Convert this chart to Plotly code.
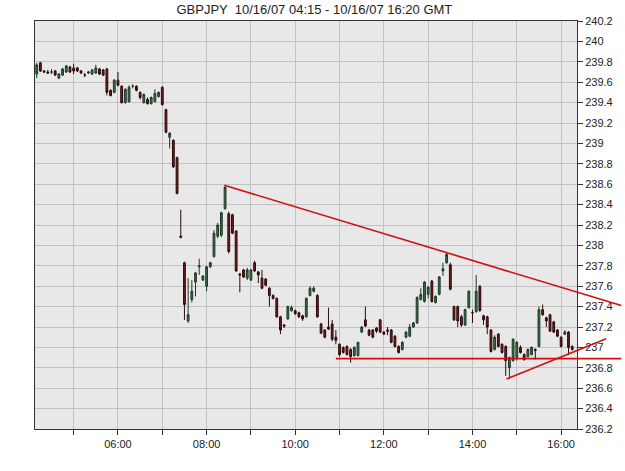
import pandas as pd
import plotly.graph_objects as go

# ---- data (5-minute candles, GBPJPY 10/16/07) ----
start_time = "2007-10-16 04:10"
n_candles = 146

opens = [239.68,239.79,239.71,239.70,239.70,239.71,239.64,239.67,239.70,239.75,
         239.74,239.74,239.71,239.67,239.69,239.68,239.69,239.73,239.72,239.73,
         239.52,239.50,239.62,239.56,239.40,239.41,239.56,239.56,239.50,239.40,
         239.43,239.39,239.41,239.46,239.55,239.33,239.06,239.03,238.86,238.09,
         237.83,237.26,237.47,237.64,237.79,237.66,237.60,237.79,237.89,238.09,
         238.10,238.36,238.31,238.30,238.14,237.72,237.76,237.68,237.66,237.83,
         237.74,237.68,237.67,237.58,237.51,237.48,237.30,237.22,237.28,237.36,
         237.36,237.34,237.31,237.30,237.51,237.55,237.51,237.23,237.17,237.20,
         237.23,237.10,237.03,237.00,237.01,236.98,236.92,236.92,237.15,237.27,
         237.17,237.17,237.19,237.27,237.15,237.17,237.17,237.11,237.01,236.98,
         237.10,237.11,237.20,237.24,237.47,237.45,237.52,237.65,237.44,237.52,
         237.75,237.83,237.81,237.40,237.40,237.30,237.22,237.39,237.34,237.35,
         237.60,237.31,237.30,237.17,236.98,237.13,237.03,237.01,236.80,236.87,
         236.90,237.00,236.93,236.91,236.93,236.98,237.01,237.37,237.29,237.32,
         237.25,237.17,237.10,237.13,237.15,237.01]
highs = [239.79,239.80,239.72,239.72,239.73,239.72,239.69,239.74,239.77,239.76,
         239.78,239.75,239.72,239.69,239.71,239.73,239.77,239.74,239.73,239.74,
         239.53,239.63,239.70,239.57,239.54,239.57,239.58,239.57,239.51,239.49,
         239.45,239.46,239.53,239.51,239.56,239.34,239.11,239.04,238.87,238.35,
         237.84,237.68,237.66,237.74,237.87,237.71,237.80,237.84,238.15,238.22,
         238.33,238.58,238.33,238.31,238.15,237.73,237.77,237.78,237.77,237.85,
         237.75,237.76,237.68,237.59,237.52,237.49,237.31,237.23,237.41,237.41,
         237.37,237.35,237.32,237.49,237.60,237.60,237.52,237.24,237.18,237.39,
         237.27,237.17,237.04,237.01,237.02,236.99,237.01,237.05,237.21,237.40,
         237.18,237.18,237.20,237.28,237.16,237.20,237.18,237.12,237.02,237.06,
         237.16,237.23,237.25,237.50,237.58,237.65,237.60,237.66,237.51,237.70,
         237.83,237.93,237.83,237.41,237.41,237.32,237.38,237.56,237.37,237.71,
         237.61,237.32,237.31,237.18,237.12,237.14,237.04,237.02,236.91,237.09,
         237.06,237.02,236.94,236.99,237.01,236.99,237.40,237.42,237.30,237.33,
         237.26,237.18,237.11,237.17,237.16,237.02]
lows = [239.64,239.70,239.69,239.68,239.68,239.66,239.63,239.66,239.69,239.69,
        239.68,239.70,239.68,239.65,239.68,239.67,239.68,239.67,239.66,239.47,
        239.46,239.49,239.56,239.39,239.39,239.40,239.54,239.51,239.43,239.39,
        239.38,239.38,239.40,239.45,239.37,239.10,238.95,238.76,238.50,238.07,
        237.27,237.24,237.44,237.50,237.71,237.65,237.55,237.78,237.88,238.07,
        238.08,238.35,237.92,238.11,237.74,237.54,237.68,237.66,237.65,237.74,
        237.63,237.57,237.60,237.40,237.47,237.29,237.13,237.19,237.27,237.35,
        237.32,237.29,237.26,237.29,237.50,237.54,237.29,237.13,237.09,237.17,
        237.06,237.03,236.91,236.94,236.92,236.85,236.91,236.91,237.14,237.20,
        237.11,237.09,237.14,237.14,237.12,237.12,237.04,237.00,236.94,236.97,
        237.09,237.10,237.19,237.23,237.46,237.44,237.48,237.44,237.43,237.51,
        237.70,237.82,237.56,237.26,237.20,237.20,237.21,237.38,237.24,237.34,
        237.35,237.22,237.13,236.95,236.97,237.00,236.94,236.72,236.69,236.86,
        236.87,236.94,236.87,236.90,236.92,236.88,237.00,237.31,237.20,237.15,
        237.14,237.10,237.00,237.12,236.93,236.97]
closes = [239.77,239.71,239.70,239.69,239.70,239.67,239.68,239.73,239.76,239.70,
          239.71,239.71,239.69,239.67,239.70,239.72,239.74,239.68,239.67,239.50,
          239.47,239.62,239.57,239.40,239.53,239.55,239.56,239.52,239.45,239.48,
          239.39,239.45,239.49,239.50,239.38,239.11,239.10,238.77,238.51,238.08,
          237.42,237.32,237.55,237.73,237.80,237.70,237.79,237.83,238.12,238.20,
          238.32,238.57,237.94,238.12,237.75,237.71,237.69,237.76,237.76,237.75,
          237.71,237.58,237.61,237.51,237.48,237.30,237.17,237.21,237.40,237.39,
          237.33,237.30,237.28,237.48,237.58,237.58,237.30,237.14,237.10,237.18,
          237.08,237.07,236.93,236.95,236.93,236.91,237.00,237.05,237.20,237.21,
          237.12,237.10,237.16,237.15,237.13,237.16,237.05,237.01,236.95,237.05,
          237.15,237.20,237.24,237.49,237.52,237.64,237.59,237.45,237.50,237.69,
          237.77,237.91,237.57,237.27,237.26,237.22,237.37,237.55,237.34,237.55,
          237.36,237.27,237.20,236.96,237.10,237.01,236.95,236.87,236.90,237.08,
          237.05,236.95,236.88,236.98,237.00,236.97,237.37,237.32,237.26,237.16,
          237.15,237.11,237.01,237.15,237.00,236.98]

# hand-drawn trend lines (time, price)
trend_start_times = ["2007-10-16 08:24", "2007-10-16 10:55", "2007-10-16 14:46"]
trend_start_prices = [238.59, 236.89, 236.69]
trend_end_times = ["2007-10-16 17:21:30", "2007-10-16 17:21:30", "2007-10-16 17:01"]
trend_end_prices = [237.41, 236.89, 237.085]

# axes
x_range = ["2007-10-16 04:07:40", "2007-10-16 16:21:30"]
hour_ticks = pd.date_range("2007-10-16 05:00", "2007-10-16 16:00", freq="1h")
hour_labels = [t.strftime("%H:%M") if t.hour % 2 == 0 else "" for t in hour_ticks]
y_min, y_max, y_step = 236.2, 240.2, 0.2

title_text = "GBPJPY  10/16/07 04:15 - 10/16/07 16:20 GMT"

times = pd.date_range(start_time, periods=n_candles, freq="5min")

fig = go.Figure()
fig.add_trace(go.Candlestick(
    x=times, open=opens, high=highs, low=lows, close=closes,
    increasing=dict(line=dict(color="#1c3a26", width=1), fillcolor="#3a6e4c"),
    decreasing=dict(line=dict(color="#2e0a0a", width=1), fillcolor="#6e1c1c"),
    whiskerwidth=0, showlegend=False, hoverinfo="skip",
))

t0 = pd.Timestamp(x_range[0]).value
t1 = pd.Timestamp(x_range[1]).value
def xfrac(t):
    return (pd.Timestamp(t).value - t0) / (t1 - t0)

shapes = []
for ts, ps, te, pe in zip(trend_start_times, trend_start_prices, trend_end_times, trend_end_prices):
    shapes.append(dict(type="line", xref="x domain", yref="y",
                       x0=xfrac(ts), y0=ps, x1=xfrac(te), y1=pe,
                       line=dict(color="#d01010", width=1.6), layer="above"))

font_family = "Arial, 'Liberation Sans', sans-serif"
fig.update_layout(
    width=625, height=471,
    margin=dict(l=35, r=45, t=21, b=42),
    paper_bgcolor="white",
    plot_bgcolor="#e8e8e8",
    shapes=shapes,
    title=dict(text=title_text, x=0.503, xanchor="center", y=0.979, yanchor="middle",
               font=dict(family=font_family, size=13, color="#222222")),
    font=dict(family=font_family, size=11, color="#222222"),
    xaxis=dict(
        type="date", range=x_range, rangeslider=dict(visible=False),
        tickvals=hour_ticks, ticktext=hour_labels,
        ticks="outside", ticklen=5, tickcolor="#333333",
        showgrid=True, gridcolor="#c2c2c2", gridwidth=1,
        showline=True, linecolor="#333333", linewidth=1, mirror=True,
        tickfont=dict(size=11, color="#222222"),
        zeroline=False, fixedrange=True,
    ),
    yaxis=dict(
        side="right", range=[y_min, y_max], dtick=y_step, tick0=y_min,
        ticks="outside", ticklen=5, tickcolor="#333333",
        showgrid=True, gridcolor="#c2c2c2", gridwidth=1,
        showline=True, linecolor="#333333", linewidth=1, mirror=True,
        tickfont=dict(size=11, color="#222222"),
        zeroline=False, fixedrange=True,
    ),
)

fig.write_html("out.html")
